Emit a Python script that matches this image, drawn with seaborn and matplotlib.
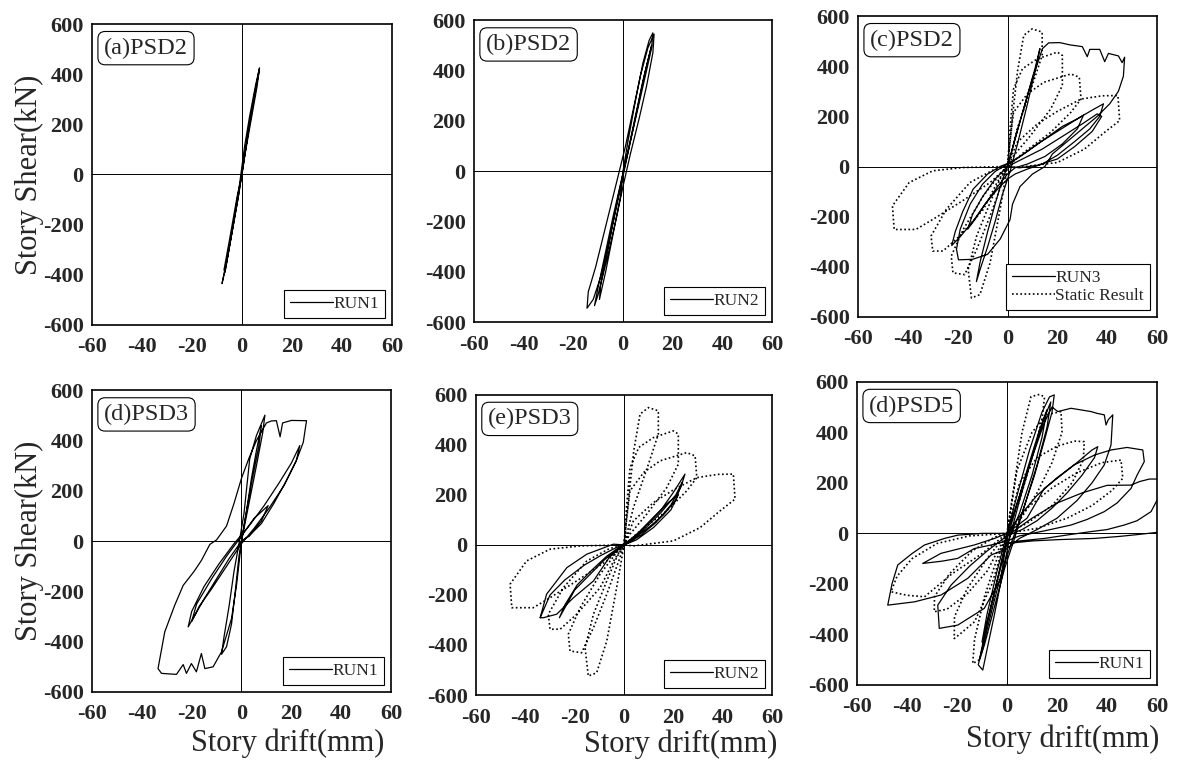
import matplotlib
matplotlib.use("Agg")
import matplotlib.pyplot as plt
import seaborn as sns

# ---- data (drift mm, shear kN) ----
a_run_x = [0, 2.5, 5, 6.5, 7, 5.5, 3, 1, -1, -3.5, -6, -7.5, -8, -6.5, -4, -1.5, 0.5, 3, 5.5, 6.8, 6, 3.5, 1,
           -1.5, -4.5, -6.8, -7.2, -5, -2, 0]
a_run_y = [0, 170, 320, 400, 425, 360, 230, 110, -40, -200, -340, -410, -435, -370, -230, -90, 40, 200, 340, 410,
           350, 210, 70, -90, -260, -390, -380, -260, -90, 0]

b_run_x = [0, 2, 5, 8, 10.5, 12, 11.5, 9, 6, 3, 0, -3, -6, -9, -12, -14.5, -14, -11, -8, -5, -2, 1, 4, 7, 10,
           12.5, 12, 9.5, 6.5, 3, 0, -3, -6.5, -10, -11.5, -10, -7, -4, -1, 2, 5, 8, 11, 11.5, 9, 6, 3, 0, -3,
           -6, -9, -9.5, -7, -4, -1, 0]
b_run_y = [0, 120, 280, 430, 520, 550, 490, 380, 250, 120, -20, -160, -300, -420, -510, -545, -480, -380, -260,
           -140, -20, 100, 240, 380, 490, 545, 470, 340, 210, 70, -60, -200, -350, -490, -535, -460, -320, -180,
           -50, 80, 220, 360, 480, 500, 400, 260, 120, -10, -150, -300, -450, -510, -400, -250, -100, 0]

c_run_x = [0, 3, 7, 11, 13, 11.5, 8, 4, 1, -2, -5, -8, -11, -12.5, -11, -8, -5, -2, 0,
           5, 10, 14, 16.5, 21, 25, 30, 32, 33, 37, 39, 40.5, 44.5, 46, 47, 46.5, 44.5, 41, 36, 30, 24, 18, 15,
           10, 5, 2, 1, -3, -8, -14, -19.7, -20.5, -19, -15, -10, -5, 0,
           5, 12, 20, 28, 34, 38.5, 37, 33, 27, 20, 14, 8, 3, 0, -4, -9, -14, -19, -22.4, -21, -18, -13.8, -8,
           -3, 2, 8, 15, 22, 28, 30.5, 28, 22, 15, 8, 3, 0, -4, -9, -13, -16, -14, -10, -5, 0, 6, 14, 22, 30,
           36, 37.8, 34, 27, 20, 12, 5, 0]
c_run_y = [0, 110, 250, 390, 470, 400, 250, 90, -20, -110, -220, -320, -410, -459, -380, -260, -150, -50, 0,
           180, 350, 470, 493, 494, 485, 478, 438, 467, 467, 418, 451, 441, 414, 436, 360, 300, 250, 200, 150,
           100, 50, 0, -30, -80, -150, -212, -290, -350, -370, -372, -330, -250, -150, -70, -20, 10,
           40, 90, 140, 190, 225, 250, 200, 150, 100, 45, 10, -10, -30, -50, -90, -150, -220, -280, -315, -260,
           -180, -90, -30, 0, 20, 60, 110, 160, 190, 205, 150, 90, 40, 10, -5, -30, -80, -150, -210, -250, -190,
           -120, -50, 0, 30, 70, 120, 170, 210, 200, 140, 80, 30, 5, -5, 0]

# static test result (same cyclic protocol shown in panels c and e)
static_x = [0, 2, 4, 6.5, 9.9, 13.9, 13.9, 9.9, 3.8, 0,
            -3, -7, -11.1, -14.5, -15.8, -12.4, -7, -3, 0,
            1, 2.4, 6, 11.9, 20, 22, 22, 17.3, 9.2, 2.4, 0,
            -2, -7, -12.4, -17.2, -21.9, -22.6, -17.8, -9.7, -3, 0,
            1, 2.4, 8, 14.6, 25.4, 28.8, 29.5, 25.4, 17.3, 6.5, 0,
            -4, -9.7, -19.2, -25.9, -30, -30.7, -24.6, -15.1, -6, 0,
            3.8, 12, 20, 29.5, 38, 44.3, 45, 38.9, 30.8, 20, 3.8, 0,
            -7, -19.2, -30, -36.8, -45.5, -46.2, -39.5, -30, -17.8, 0]
static_y = [0, 200, 380, 523, 549, 536, 443, 323, 149, 0,
            -171, -384, -511, -524, -411, -277, -144, -50, 0,
            150, 309, 390, 429, 456, 443, 323, 229, 123, 43, 0,
            -60, -197, -331, -431, -424, -357, -251, -117, -30, 0,
            100, 216, 290, 336, 369, 356, 269, 216, 136, 56, 0,
            -60, -171, -277, -337, -337, -277, -171, -64, -15, 0,
            96, 170, 220, 269, 282, 283, 183, 136, 69, 16, -4, 0,
            -64, -144, -211, -251, -251, -157, -64, -17, -4, 0]

d_run_x = [0, 2, 4, 6, 8, 7, 4, 1, -1, -2.5, -4, -6, -8, -7, -5, -3, -1, 1, 3.3, 6, 9.4, 8.5, 6, 3, 0,
           -2, -4, -8, -11.4, -14.7, -16.1, -18.1, -20.1, -22.1, -23.4, -26.1, -32.1, -33.5, -30.8, -26.8,
           -23.4, -19, -16.1, -12.7, -10, -6, -3, 0, 3, 6, 10, 12, 14, 15.5, 16.5, 20, 26.1, 25.5, 24.8, 22, 18,
           13, 8, 3, 0,
           -5, -10, -15, -19, -21.4, -20, -15, -9, -3, 3, 9, 15, 20, 23.4, 22, 17, 11, 5, 0, -6, -12, -17, -20,
           -18, -12, -6, 0, 5, 10.7, 8, 3, 0]
d_run_y = [0, 120, 250, 360, 459, 380, 230, 60, -60, -200, -330, -420, -450, -380, -260, -120, -10, 110, 327,
           420, 501, 430, 300, 150, 0,
           -176, -308, -440, -500, -507, -447, -520, -487, -526, -491, -530, -526, -507, -361, -255, -176, -120,
           -77, -13, 5, 60, 150, 250, 330, 400, 470, 478, 479, 415, 470, 480, 479, 440, 393, 320, 240, 150, 70,
           20, 0,
           -70, -150, -230, -300, -341, -280, -180, -90, -10, 60, 140, 230, 310, 380, 320, 220, 130, 50, -10,
           -100, -190, -260, -320, -250, -150, -60, 20, 90, 141, 80, 20, 0]

e_run_x = [0, 5, 10, 15, 20, 24.7, 23, 19, 13, 7, 2, -3, -8, -14, -20, -26.2, -24, -19, -13, -7, -2, 3, 9, 15,
           21, 23.5, 21, 16, 10, 4, -2, -9, -16, -24, -30, -34, -32.7, -27.3, -20.5, -12.4, -6, 0, 6, 12, 18,
           22, 19, 12, 5, 0, -4.3, -15.1, -23.2, -31.4, -34]
e_run_y = [0, 40, 90, 140, 210, 283, 230, 160, 90, 40, 10, -20, -60, -120, -180, -291, -240, -160, -100, -45,
           -10, 20, 70, 130, 200, 250, 180, 120, 70, 25, -5, -40, -80, -140, -200, -291, -291, -277, -211, -144,
           -50, 0, 50, 110, 170, 200, 140, 70, 20, 0, 3, -37, -91, -197, -291]

f_run_x = [0, 4, 9, 14, 17, 18.9, 18, 15, 11, 6, 2, -2, -6, -9, -11.5, -9.7, -8, -5, -2, 1, 5, 10, 15, 17.5,
           16, 12, 7, 3, -1, -5, -9, -11, -9, -5, -1, 3, 8, 13, 16, 14, 10, 5, 0, -4, -8, -10, -8, -4, 0,
           5, 10, 15, 18, 20.3, 25.6, 30, 33.6, 36, 38.9, 39.6, 40.5, 42.3, 41.6, 38.9, 34, 28, 20, 12, 5, 0,
           -6.4, -15.7, -26.4, -37, -47.7, -46, -43.7, -38, -33, -25, -19.7, -10, 0,
           8, 14.9, 26.9, 35, 41.6, 48, 54.3, 54.9, 52, 49.6, 44, 38.9, 32, 25.6, 15, 5, 0,
           -6.4, -13.1, -19.7, -26, -33.7, -26.4, -13.1, -5, 0,
           6, 12, 20, 28, 34, 36.3, 35, 30, 24, 18, 12, 6, 0,
           -2.4, -9.1, -19.7, -27.1, -27.7, -22.4, -15, -8, 0,
           10, 20, 30, 40, 49.6, 53, 57, 61, 61, 57.6, 52, 46.9, 40, 33.6, 25, 15, 5, 0,
           10, 20, 35, 45, 52, 61]
f_run_y = [0, 150, 330, 480, 540, 548, 480, 370, 230, 80, -30, -150, -300, -420, -520, -541, -460, -320, -170,
           -20, 130, 300, 460, 520, 420, 270, 110, -20, -140, -290, -440, -500, -400, -230, -60, 80, 250, 410,
           490, 380, 230, 80, -40, -190, -350, -430, -320, -150, 0,
           150, 300, 440, 500, 482, 495, 488, 482, 475, 469, 429, 450, 469, 350, 271, 200, 130, 60, 15, -20, -60,
           -86, -178, -244, -271, -284, -200, -125, -80, -46, -20, -7, 0, 0,
           60, 178, 271, 310, 330, 340, 330, 284, 230, 178, 120, 86, 55, 33, 10, -10, -30,
           -46, -60, -99, -110, -119, -79, -46, -20, 0,
           80, 150, 220, 280, 330, 343, 300, 230, 160, 100, 50, 15, -10,
           -178, -297, -363, -376, -284, -205, -130, -70, -10,
           60, 120, 160, 190, 191, 205, 215, 215, 150, 86, 50, 33, 15, 7, -5, -20, -30, -40,
           -30, -25, -20, -12, -5, 5]

f_static_x = [0, 3, 6, 9.6, 13, 15, 14, 10, 5, 0,
              -4, -8, -11, -13.7, -13, -9, -4, 0,
              4, 10, 16, 21.6, 22, 18, 12, 5, 0,
              -6, -13, -19, -21.1, -21, -16, -8, 0,
              5, 12, 20, 27, 30.9, 30.5, 26, 18, 8, 0,
              -8, -16, -24, -29.1, -29, -23, -14, -5, 0,
              8, 18, 28, 38, 45.6, 46.3, 42, 34, 24, 12, 0,
              -10, -22, -33, -40, -46.4, -44, -38, -28, -15, 0]
f_static_y = [0, 200, 400, 541, 550, 540, 450, 300, 130, 0,
              -200, -400, -500, -515, -420, -250, -100, 0,
              250, 400, 470, 482, 400, 280, 160, 50, 0,
              -200, -350, -400, -416, -330, -220, -100, 0,
              200, 300, 345, 365, 363, 290, 200, 110, 40, 0,
              -150, -240, -300, -310, -250, -160, -70, -15, 0,
              100, 180, 240, 280, 290, 218, 170, 110, 60, 20, 0,
              -80, -160, -251, -245, -231, -170, -100, -40, -10, 0]

x_ticks = [-60, -40, -20, 0, 20, 40, 60]
y_ticks = [-600, -400, -200, 0, 200, 400, 600]

sns.set_style("white")
plt.rcParams['font.family'] = ['Liberation Serif', 'DejaVu Serif']
plt.rcParams['axes.unicode_minus'] = False


def draw_panel(ax, title, run_x, run_y, run_label, st_x=None, st_y=None, st_label=None):
    if st_x is not None:
        sns.lineplot(x=st_x, y=st_y, sort=False, estimator=None, ax=ax, color='k',
                     lw=1.2, linestyle=(0, (1, 1.5)), label=st_label)
    sns.lineplot(x=run_x, y=run_y, sort=False, estimator=None, ax=ax, color='k',
                 lw=0.9, label=run_label)
    ax.axhline(0, color='k', lw=0.7, zorder=0)
    ax.axvline(0, color='k', lw=0.7, zorder=0)
    ax.set_xlim(-60, 60)
    ax.set_ylim(-600, 600)
    ax.set_xticks(x_ticks)
    ax.set_yticks(y_ticks)
    ax.tick_params(axis='x', length=0, labelsize=16, pad=9)
    ax.tick_params(axis='y', length=0, labelsize=16, pad=6)
    for t in ax.get_xticklabels() + ax.get_yticklabels():
        t.set_fontweight('bold')
    for s in ax.spines.values():
        s.set_color('k')
        s.set_linewidth(1.2)
    ax.text(0.04, 0.955, title, transform=ax.transAxes, fontsize=17.5, va='top', ha='left',
            bbox=dict(boxstyle='round,pad=0.25,rounding_size=0.3', fc='white', ec='k', lw=0.8))
    h, l = ax.get_legend_handles_labels()
    # run first, then static
    order = sorted(range(len(l)), key=lambda i: 0 if l[i].startswith('RUN') else 1)
    ax.legend([h[i] for i in order], [l[i] for i in order], loc='lower right', fontsize=12.5,
              frameon=True, fancybox=False, edgecolor='k', framealpha=1, handlelength=2.5,
              handletextpad=0.0, borderpad=0.35, borderaxespad=0.4, labelspacing=0.1)
    ax.get_legend().get_frame().set_linewidth(0.8)


fig = plt.figure(figsize=(11.78, 7.6), dpi=100)
ax_a = fig.add_axes([0.0781, 0.5724, 0.2547, 0.396])
ax_b = fig.add_axes([0.4024, 0.5763, 0.2530, 0.397])
ax_c = fig.add_axes([0.7284, 0.5829, 0.2538, 0.396])
ax_d = fig.add_axes([0.0781, 0.0895, 0.2538, 0.397])
ax_e = fig.add_axes([0.4041, 0.0855, 0.2513, 0.395])
ax_f = fig.add_axes([0.7275, 0.0987, 0.2547, 0.399])

draw_panel(ax_a, '(a)PSD2', a_run_x, a_run_y, 'RUN1')
draw_panel(ax_b, '(b)PSD2', b_run_x, b_run_y, 'RUN2')
draw_panel(ax_c, '(c)PSD2', c_run_x, c_run_y, 'RUN3', static_x, static_y, 'Static Result')
draw_panel(ax_d, '(d)PSD3', d_run_x, d_run_y, 'RUN1')
draw_panel(ax_e, '(e)PSD3', e_run_x, e_run_y, 'RUN2', static_x, static_y)
draw_panel(ax_f, '(d)PSD5', f_run_x, f_run_y, 'RUN1', f_static_x, f_static_y)

for ax in [ax_a, ax_b, ax_c, ax_d, ax_e, ax_f]:
    ax.set_xlabel('')
    ax.set_ylabel('')
for ax in [ax_a, ax_d]:
    ax.set_ylabel('Story Shear(kN)', fontsize=22)
    ax.yaxis.set_label_coords(-0.16, 0.5)
for ax, xc, yc in [(ax_d, 0.655, -0.12), (ax_e, 0.69, -0.115), (ax_f, 0.687, -0.13)]:
    ax.set_xlabel('Story drift(mm)', fontsize=22)
    ax.xaxis.set_label_coords(xc, yc)

fig.savefig('out.png', dpi=100, facecolor='white')
